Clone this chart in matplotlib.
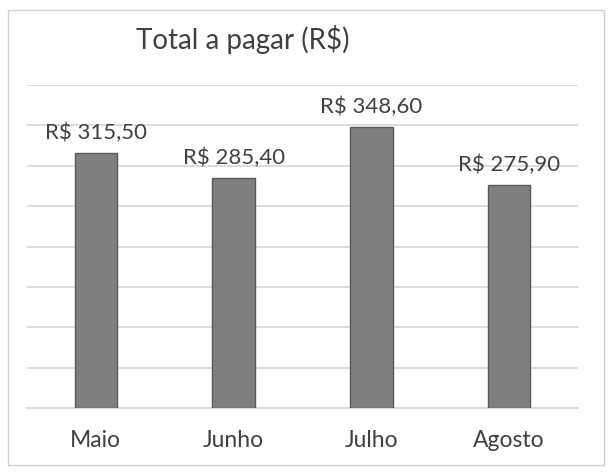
import matplotlib
matplotlib.use("Agg")
import matplotlib.pyplot as plt
from matplotlib.patches import Rectangle

months = ["Maio", "Junho", "Julho", "Agosto"]
values = [315.50, 285.40, 348.60, 275.90]
labels = ["R$ 315,50", "R$ 285,40", "R$ 348,60", "R$ 275,90"]
title = "Total a pagar (R$)"

plt.rcParams['font.family'] = ['Lato', 'DejaVu Sans']

fig = plt.figure(figsize=(6.12, 4.76), dpi=100)
fig.patch.set_facecolor("white")
ax = fig.add_axes([27/612, 1 - 408/476, (578-27)/612, (408-85)/476])

x = range(len(months))
ax.bar(x, values, width=0.31, color="#7f7f7f", edgecolor="#595959", linewidth=1, zorder=3)
ax.set_xlim(-0.5, len(months) - 0.5)
ax.set_ylim(0, 400)
ax.set_yticks(range(0, 401, 50))
ax.yaxis.grid(True, color="#d9d9d9", linewidth=1.3, zorder=0)
ax.tick_params(axis="y", left=False, labelleft=False)
ax.tick_params(axis="x", bottom=False, labelsize=16.5, labelcolor="#404040", pad=12)
ax.set_xticks(list(x))
ax.set_xticklabels(months)
for s in ["top", "right", "left"]:
    ax.spines[s].set_visible(False)
ax.spines["bottom"].set_color("#d9d9d9")
ax.spines["bottom"].set_linewidth(1.3)

for i, (v, lab) in enumerate(zip(values, labels)):
    ax.annotate(lab, (i, v), xytext=(0, 7), textcoords="offset points",
                ha="center", va="bottom", fontsize=16, color="#404040")

fig.text(243/612, 1 - 40/476, title, ha="center", va="center", fontsize=20, color="#404040")

fig.patches.append(Rectangle((8/612, 1 - 465/476), (604-8)/612, (465-10)/476,
                             transform=fig.transFigure, fill=False,
                             edgecolor="#d0d0d0", linewidth=1))

fig.savefig("out.png", dpi=100, facecolor="white")
